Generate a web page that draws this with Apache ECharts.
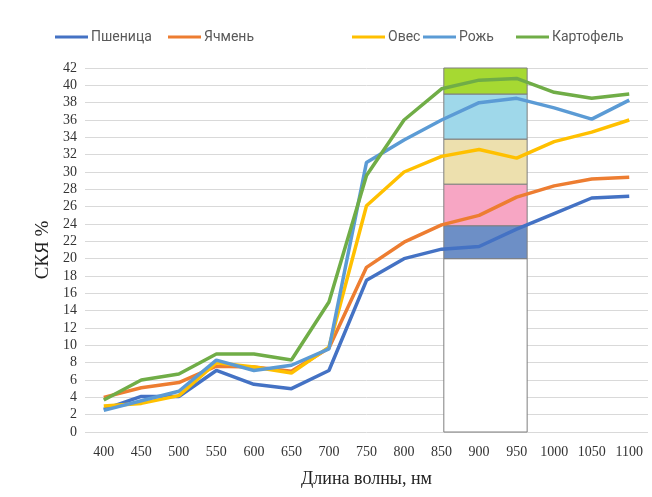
<!DOCTYPE html>
<html><head><meta charset="utf-8">
<script src="https://cdn.jsdelivr.net/npm/echarts@6/dist/echarts.min.js"></script>
<style>html,body{margin:0;padding:0;background:#fff}#c{width:652px;height:497px}</style>
</head><body><div id="c"></div>
<script>
var categories = ['400','450','500','550','600','650','700','750','800','850','900','950','1000','1050','1100'];
var seriesNames = ['Пшеница','Ячмень','Овес','Рожь','Картофель'];
var wheat  = [2.6, 4.1, 4.1, 7.1, 5.5, 5.0, 7.1, 17.5, 20.0, 21.1, 21.4, 23.4, 25.2, 27.0, 27.2];
var barley = [4.0, 5.1, 5.7, 7.6, 7.5, 7.0, 9.7, 19.0, 21.9, 23.9, 25.0, 27.1, 28.4, 29.2, 29.4];
var oats   = [3.0, 3.3, 4.2, 8.0, 7.5, 6.8, 9.8, 26.1, 30.0, 31.8, 32.6, 31.6, 33.5, 34.6, 36.0];
var rye    = [2.5, 3.6, 4.7, 8.3, 7.1, 7.7, 9.6, 31.1, 33.7, 36.0, 38.0, 38.5, 37.4, 36.1, 38.3];
var potato = [3.7, 6.0, 6.7, 9.0, 9.0, 8.3, 15.0, 29.6, 36.0, 39.6, 40.6, 40.8, 39.2, 38.5, 39.0];
var yTicks = [0,2,4,6,8,10,12,14,16,18,20,22,24,26,28,30,32,34,36,38,40,42];
// highlighted window (wavelength range) and its bands (value ranges)
var boxRange = [853, 964];
var boxBands = [[0, 20], [20, 23.8], [23.8, 28.6], [28.6, 33.8], [33.8, 39.0], [39.0, 42]];

var lineColors = ['#4472C4', '#ED7D31', '#FFC000', '#5B9BD5', '#70AD47'];
var bandColors = ['#ffffff', '#6d8fc6', '#f7a6c4', '#ede0ae', '#9fd8ea', '#a6d932'];
var seriesData = [wheat, barley, oats, rye, potato];

var chart = echarts.init(document.getElementById('c'), null, {renderer: 'canvas'});
var legendLefts = [55, 168, 352, 423, 516];
var legends = seriesNames.map(function (n, i) {
  return {
    data: [n], left: legendLefts[i], top: 30, padding: 0, icon: 'rect', itemWidth: 33, itemHeight: 3,
    itemGap: 4, textStyle: {fontFamily: 'Roboto', fontSize: 14, color: '#595959', padding: [0, 0, 0, -2]},
    selectedMode: false
  };
});

var boxData = boxBands.map(function (b, i) { return [boxRange[0], boxRange[1], b[0], b[1], i]; });

var series = [{
  type: 'custom', xAxisIndex: 1, yAxisIndex: 0, z: 1, silent: true,
  data: boxData,
  renderItem: function (params, api) {
    var p0 = api.coord([api.value(0), api.value(3)]);
    var p1 = api.coord([api.value(1), api.value(2)]);
    return {
      type: 'rect',
      shape: {x: p0[0], y: p0[1], width: p1[0] - p0[0], height: p1[1] - p0[1]},
      style: {fill: bandColors[api.value(4)], stroke: '#7f7f7f', lineWidth: 1}
    };
  }
}];
seriesNames.forEach(function (n, i) {
  series.push({
    name: n, type: 'line', data: seriesData[i], symbol: 'none', z: 3,
    lineStyle: {width: 3.5, color: lineColors[i]}, itemStyle: {color: lineColors[i]}
  });
});

chart.setOption({
  animation: false,
  legend: legends,
  grid: {left: 85, right: 4, top: 68, bottom: 65, containLabel: false},
  xAxis: [{
    type: 'category', data: categories, boundaryGap: true,
    axisLine: {show: false}, axisTick: {show: false},
    axisLabel: {fontFamily: 'Liberation Serif', fontSize: 14, color: '#333', margin: 13},
    name: 'Длина волны, нм', nameLocation: 'middle', nameGap: 38,
    nameTextStyle: {fontFamily: 'Liberation Serif', fontSize: 18, color: '#222'}
  }, {
    type: 'value', min: 375, max: 1125, show: false
  }],
  yAxis: {
    type: 'value', min: 0, max: 42, interval: 2,
    axisLine: {show: false}, axisTick: {show: false},
    splitLine: {lineStyle: {color: '#d9d9d9', width: 1}},
    axisLabel: {fontFamily: 'Liberation Serif', fontSize: 14, color: '#333', margin: 8},
    name: 'СКЯ %', nameLocation: 'middle', nameGap: 30, nameRotate: 90,
    nameTextStyle: {fontFamily: 'Liberation Serif', fontSize: 19, color: '#222'}
  },
  series: series
});
</script>
</body></html>
